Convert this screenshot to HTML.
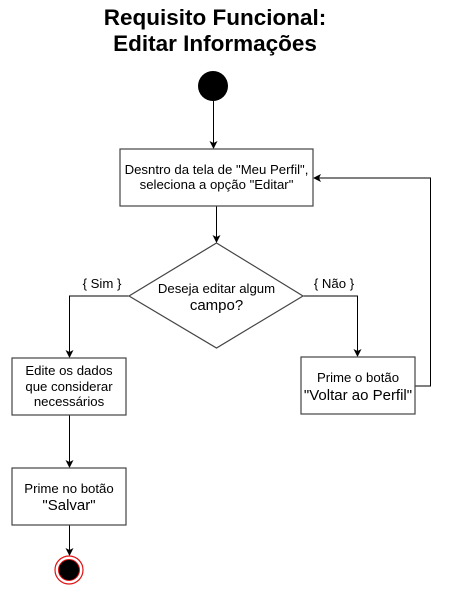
<!DOCTYPE html>
<html><head><meta charset="utf-8"><style>
html,body{margin:0;padding:0;background:#fff;}
svg{display:block;font-family:"Liberation Sans",Arial,sans-serif;}
</style></head><body>
<svg width="451" height="596" viewBox="0 0 451 596" xmlns="http://www.w3.org/2000/svg">
<defs><marker id="a" markerWidth="8" markerHeight="8" refX="7" refY="4" orient="auto" markerUnits="userSpaceOnUse"><path d="M0,0 L8,4 L0,8 L2,4 Z" fill="#000"/></marker></defs>
<text x="215" y="25" font-size="22.5" font-weight="bold" text-anchor="middle">Requisito Funcional:</text>
<text x="215" y="51" font-size="22.5" font-weight="bold" text-anchor="middle">Editar Informações</text>
<circle cx="213" cy="86" r="15" fill="#000"/>
<g stroke="#000" stroke-width="1" fill="none">
<line x1="213.5" y1="101" x2="213.5" y2="148" marker-end="url(#a)"/>
<line x1="216.5" y1="206" x2="216.5" y2="242" marker-end="url(#a)"/>
<polyline points="129,296 69.5,296 69.5,357" marker-end="url(#a)"/>
<polyline points="303,296 357.5,296 357.5,356" marker-end="url(#a)"/>
<polyline points="415,386 430.5,386 430.5,178 314,178" marker-end="url(#a)"/>
<line x1="69.5" y1="415" x2="69.5" y2="467" marker-end="url(#a)"/>
<line x1="69.5" y1="525" x2="69.5" y2="555" marker-end="url(#a)"/>
</g>
<g stroke="#444" stroke-width="1.2" fill="#fff">
<rect x="120" y="149" width="193" height="57"/>
<polygon points="216.5,243 303,296 216.5,348 129,296"/>
<rect x="12" y="358" width="114" height="57"/>
<rect x="301" y="357" width="114" height="57"/>
<rect x="12" y="468" width="114" height="57"/>
</g>
<circle cx="69" cy="570" r="14" fill="#fff" stroke="#e01010" stroke-width="1.2"/>
<circle cx="69" cy="570" r="10.5" fill="#000" stroke="#e01010" stroke-width="1"/>
<g font-size="13.2" text-anchor="middle" fill="#000">
<text x="216.5" y="174">Desntro da tela de "Meu Perfil",</text>
<text x="216.5" y="189">seleciona a opção "Editar"</text>
<text x="216.5" y="293">Deseja editar algum</text>
<text x="216.5" y="310" font-size="15">campo?</text>
<text x="102" y="288">{ Sim }</text>
<text x="334" y="288">{ Não }</text>
<text x="69" y="375">Edite os dados</text>
<text x="69" y="391">que considerar</text>
<text x="69" y="406">necessários</text>
<text x="358" y="382">Prime o botão</text>
<text x="358" y="400" font-size="15">"Voltar ao Perfil"</text>
<text x="69" y="493">Prime no botão</text>
<text x="69" y="510" font-size="15">"Salvar"</text>
</g>
</svg>
</body></html>
